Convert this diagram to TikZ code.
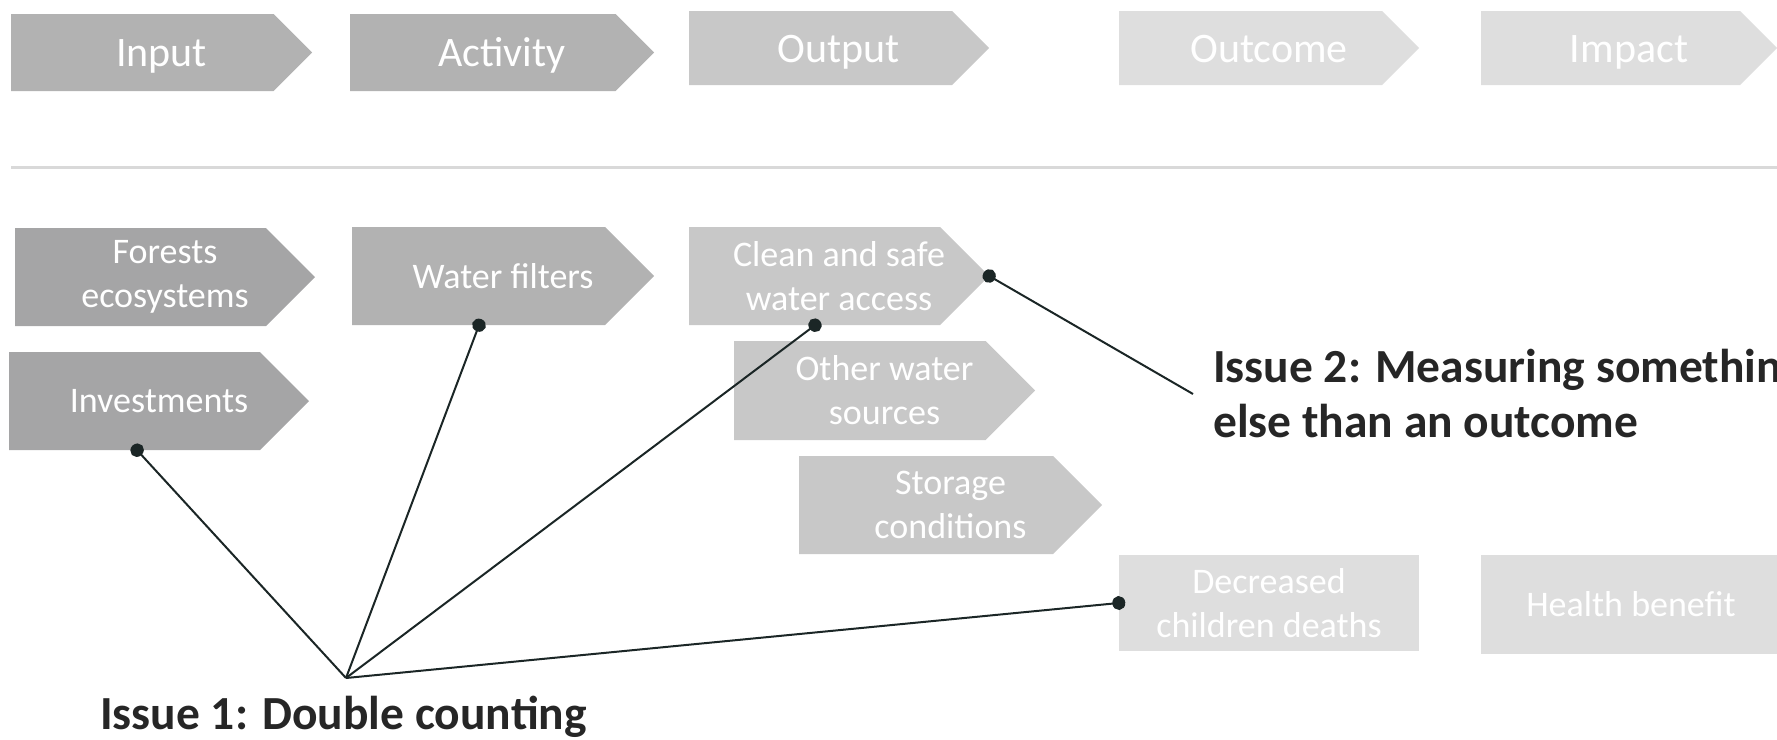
\documentclass[tikz,border=0pt]{standalone}
\usepackage{fontspec}
\setmainfont{Carlito}
\definecolor{boxdark}{RGB}{165,165,166}
\definecolor{boxmid}{RGB}{178,178,178}
\definecolor{boxlight}{RGB}{200,200,200}
\definecolor{boxpale}{RGB}{222,222,222}
\definecolor{pincol}{RGB}{27,38,38}
\definecolor{issuecol}{RGB}{38,38,38}
\definecolor{rulegray}{RGB}{217,217,217}
\usetikzlibrary{arrows.meta,calc}

\begin{document}
\begin{tikzpicture}[x=1pt,y=1pt,yscale=-1,
	chevbox/.style={minimum width=300pt, minimum height=98pt, inner sep=0pt, text=white, align=center,
		path picture={
			\coordinate (ne) at (path picture bounding box.north east);
			\coordinate (se) at (path picture bounding box.south east);
			\fill[#1] (path picture bounding box.north west) -- ($(ne)!.5!-90:(se)$) -- (path picture bounding box.east)
				-- ($(se)!.5!90:(ne)$) -- (path picture bounding box.south west) -- cycle;}},
	flatbox/.style={minimum width=300pt, minimum height=97pt, inner sep=0pt, text=white, align=center, fill=#1},
	stagetext/.style={font=\fontsize{42}{51}\selectfont, minimum height=77pt, text height=33pt, text depth=5pt},
	itemtext/.style={font=\fontsize{36}{44}\selectfont},
	issueline/.style={draw=pincol, line width=2pt, -{Circle[length=13pt,width=14pt]}, shorten >=-6.5pt},
	issuetext/.style={font=\bfseries\fontsize{47.5}{55}\selectfont, text=issuecol, align=left, inner sep=0pt}]
	\useasboundingbox (0,0) rectangle (1777,739);
	\clip (0,0) rectangle (1777,739);
	
	% stages
	\node[chevbox=boxmid, stagetext, minimum width=301pt] (input) at (161.5,52.5) {Input};
	\node[chevbox=boxmid, stagetext, minimum width=304pt] (activity) at (502,52.5) {Activity};
	\node[chevbox=boxlight, stagetext, minimum height=74pt] (output) at (839,48) {Output};
	\node[chevbox=boxpale, stagetext, minimum height=74pt] (outcome) at (1269,48) {Outcome};
	\node[chevbox=boxpale, stagetext, minimum width=296pt, minimum height=74pt] (impact) at (1629,48) {Impact};
	
	% divider
	\draw[rulegray, line width=3pt] (11,167) -- (1777,167);
	
	% example chain
	\node[chevbox=boxdark, itemtext] (forests) at (165,277) {Forests\\ecosystems};
	\node[chevbox=boxmid, itemtext, minimum width=302pt] (filters) at (503,276) {Water filters};
	\node[chevbox=boxlight, itemtext] (clean) at (839,276) {Clean and safe\\water access};
	\node[chevbox=boxdark, itemtext] (invest) at (159,401) {Investments};
	\node[chevbox=boxlight, itemtext, minimum width=301pt, minimum height=99pt] (other) at (884.5,390.5) {Other water\\sources};
	\node[chevbox=boxlight, itemtext, minimum width=303pt] (storage) at (950.5,505) {Storage\\conditions};
	\node[flatbox=boxpale, itemtext, minimum height=96pt] (decreased) at (1269,603) {Decreased\\children deaths};
	\node[flatbox=boxpale, itemtext, minimum height=99pt] (health) at (1631,604.5) {Health benefit};
	
	% issues
	\node[issuetext, anchor=base west] (issue1) at (100,729) {Issue 1: Double counting};
	\node[issuetext, inner xsep=20pt, anchor=west] (issue2) at (1193,394) {Issue 2: Measuring something\\else than an outcome};
	\coordinate (hub) at (346,678);
	
	\draw[issueline] (hub) -- (invest.-114);
	\draw[issueline] (hub) -- (filters.-116);
	\draw[issueline] (hub) -- (clean.-116);
	\draw[issueline] (hub) -- (decreased.west);
	\draw[issueline] (issue2.west) -- (clean.east);
\end{tikzpicture}
\end{document}
